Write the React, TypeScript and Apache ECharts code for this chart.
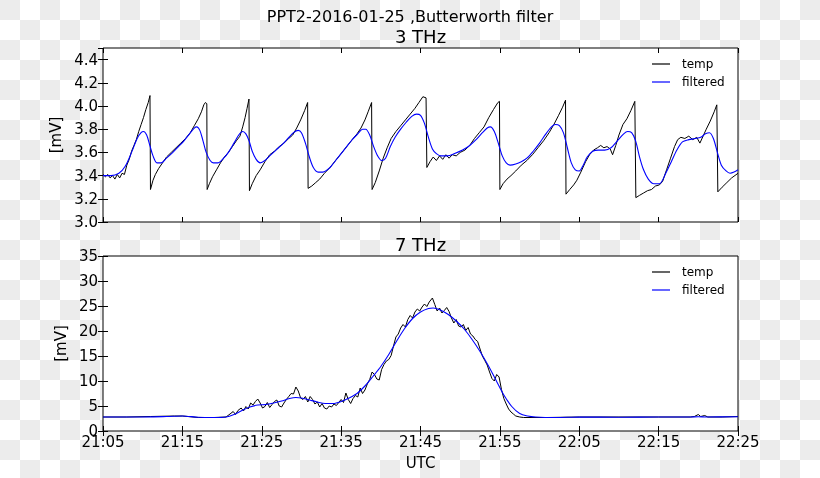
import React, { useEffect, useRef } from "react";
import * as echarts from "echarts";

// minutes after 21:05 UTC
const timeLabels = ["21:05", "21:15", "21:25", "21:35", "21:45", "21:55", "22:05", "22:15", "22:25"];
const yTicks3 = { min: 3.0, max: 4.5, step: 0.2 };
const yTicks7 = { min: 0, max: 35, step: 5 };

const temp3: [number, number][] = [
  [0, 3.41], [0.3, 3.39], [0.6, 3.41], [0.9, 3.38], [1.2, 3.4], [1.5, 3.37], [1.8, 3.41], [2.1, 3.38], [2.4, 3.42], [2.7, 3.41],
  [3.0, 3.49], [3.3, 3.54], [3.6, 3.61], [3.9, 3.66], [4.2, 3.71], [4.5, 3.78], [4.8, 3.84], [5.1, 3.9], [5.4, 3.97], [5.7, 4.03], [5.92, 4.09], [5.98, 3.28],
  [6.3, 3.36], [6.6, 3.41], [7.0, 3.46], [7.5, 3.51], [8.0, 3.56], [8.6, 3.6], [9.2, 3.64], [9.8, 3.68], [10.4, 3.72], [11.0, 3.77], [11.5, 3.83], [12.0, 3.89], [12.4, 3.95], [12.7, 4.01], [12.9, 4.03], [13.08, 4.02], [13.12, 3.28],
  [13.4, 3.33], [13.8, 3.39], [14.3, 3.45], [14.8, 3.51], [15.3, 3.56], [15.8, 3.6], [16.3, 3.65], [16.8, 3.7], [17.25, 3.74], [17.6, 3.82], [17.9, 3.9], [18.15, 3.98], [18.39, 4.06], [18.45, 3.27],
  [18.8, 3.33], [19.3, 3.4], [19.8, 3.45], [20.4, 3.52], [21.0, 3.58], [21.6, 3.61], [22.2, 3.65], [22.8, 3.68], [23.4, 3.72], [23.9, 3.75], [24.4, 3.81], [24.9, 3.88], [25.4, 3.96], [25.78, 4.03], [25.84, 3.29],
  [26.3, 3.31], [26.8, 3.34], [27.3, 3.37], [27.9, 3.42], [28.6, 3.47], [29.3, 3.53], [30.0, 3.59], [30.7, 3.65], [31.4, 3.71], [32.0, 3.76], [32.5, 3.81], [33.0, 3.88], [33.4, 3.95], [33.84, 4.03], [33.9, 3.28],
  [34.3, 3.34], [34.8, 3.44], [35.3, 3.55], [35.8, 3.64], [36.3, 3.72], [36.9, 3.78], [37.5, 3.83], [38.1, 3.88], [38.7, 3.93], [39.3, 3.98], [39.8, 4.03], [40.3, 4.08], [40.7, 4.07], [40.8, 3.47],
  [41.2, 3.52], [41.6, 3.56], [42.0, 3.53], [42.4, 3.57], [42.8, 3.54], [43.2, 3.58], [43.6, 3.55], [44.0, 3.58], [44.5, 3.57], [45.0, 3.6], [45.6, 3.62], [46.2, 3.66], [46.8, 3.72], [47.4, 3.77], [48.0, 3.82], [48.6, 3.9], [49.2, 3.97], [49.75, 4.03], [49.95, 4.04], [50.0, 3.28],
  [50.4, 3.33], [50.9, 3.37], [51.4, 3.4], [52.0, 3.44], [52.7, 3.49], [53.4, 3.53], [54.1, 3.58], [54.8, 3.64], [55.5, 3.7], [56.2, 3.77], [56.8, 3.84], [57.4, 3.92], [57.9, 3.99], [58.27, 4.05], [58.33, 3.24],
  [58.8, 3.28], [59.3, 3.32], [59.7, 3.36], [60.2, 3.43], [60.8, 3.52], [61.3, 3.58], [61.8, 3.62], [62.3, 3.64], [62.7, 3.66], [63.1, 3.64], [63.5, 3.65], [63.9, 3.63], [64.2, 3.58], [64.6, 3.66], [65.0, 3.75], [65.5, 3.84], [66.0, 3.89], [66.5, 3.96], [67.0, 4.04], [67.13, 3.21],
  [67.6, 3.23], [68.1, 3.25], [68.6, 3.27], [69.1, 3.28], [69.6, 3.31], [70.1, 3.32], [70.5, 3.35], [71.0, 3.45], [71.5, 3.55], [72.0, 3.65], [72.4, 3.71], [72.8, 3.73], [73.3, 3.72], [73.8, 3.74], [74.3, 3.71], [74.8, 3.73], [75.2, 3.68], [75.6, 3.74], [76.0, 3.8], [76.5, 3.87], [77.0, 3.95], [77.33, 4.01], [77.46, 3.26],
  [78.0, 3.3], [78.6, 3.34], [79.2, 3.38], [80.0, 3.42],
];

const filt3: [number, number][] = [
  [0, 3.4], [1, 3.4], [2, 3.42], [2.8, 3.48], [3.6, 3.6], [4.3, 3.72], [4.8, 3.77], [5.1, 3.78], [5.5, 3.75], [5.9, 3.66], [6.3, 3.57], [6.8, 3.51], [7.3, 3.51],
  [8.0, 3.55], [8.8, 3.6], [9.5, 3.65], [10.2, 3.7], [10.9, 3.76], [11.5, 3.81], [11.8, 3.82], [12.2, 3.79], [12.6, 3.7], [13.0, 3.6], [13.5, 3.53], [13.9, 3.51], [14.5, 3.51],
  [15.2, 3.55], [15.8, 3.6], [16.5, 3.68], [17.1, 3.75], [17.6, 3.78], [18.0, 3.76], [18.4, 3.7], [18.8, 3.61], [19.3, 3.54], [19.8, 3.51], [20.4, 3.53],
  [21.0, 3.57], [21.8, 3.62], [22.6, 3.67], [23.3, 3.72], [24.0, 3.77], [24.6, 3.79], [25.0, 3.77], [25.5, 3.68], [26.0, 3.56], [26.5, 3.47], [27.1, 3.43], [27.7, 3.43],
  [28.6, 3.47], [29.3, 3.53], [30.0, 3.59], [30.7, 3.65], [31.4, 3.71], [32.1, 3.76], [32.7, 3.8], [33.1, 3.8], [33.6, 3.75], [34.1, 3.65], [34.6, 3.57], [35.1, 3.53], [35.6, 3.55],
  [36.2, 3.65], [36.8, 3.73], [37.5, 3.8], [38.2, 3.86], [38.9, 3.91], [39.5, 3.93], [40.0, 3.92], [40.5, 3.85], [41.0, 3.73], [41.5, 3.63], [42.0, 3.59], [42.6, 3.57],
  [43.4, 3.57], [44.3, 3.59], [45.3, 3.62], [46.2, 3.66], [47.0, 3.71], [47.8, 3.77], [48.4, 3.81], [48.8, 3.82], [49.3, 3.78], [49.8, 3.68], [50.3, 3.57], [50.8, 3.51], [51.3, 3.49],
  [52.0, 3.5], [52.7, 3.52], [53.4, 3.55], [54.2, 3.61], [55.0, 3.68], [55.8, 3.76], [56.5, 3.82], [57.0, 3.84], [57.5, 3.83], [58.0, 3.77], [58.5, 3.64], [59.0, 3.51], [59.5, 3.45], [60.0, 3.44],
  [60.5, 3.49], [61.0, 3.56], [61.7, 3.61], [62.4, 3.62], [63.2, 3.62], [64.0, 3.64], [64.8, 3.7], [65.6, 3.76], [66.1, 3.78], [66.6, 3.77], [67.1, 3.7], [67.6, 3.56], [68.1, 3.45], [68.7, 3.37], [69.4, 3.33], [70.1, 3.33],
  [70.9, 3.42], [71.6, 3.52], [72.3, 3.62], [73.0, 3.69], [73.8, 3.71], [74.6, 3.72], [75.3, 3.73], [75.9, 3.76], [76.4, 3.77], [76.9, 3.72], [77.4, 3.6], [77.9, 3.49], [78.5, 3.44], [79.0, 3.42], [79.5, 3.43], [80.0, 3.45],
];

const temp7: [number, number][] = [
  [0, 2.8], [3, 2.8], [6, 2.9], [9, 3.0], [10, 3.0], [12, 2.7], [14, 2.7], [15.5, 2.8],
  [16.0, 3.4], [16.4, 3.9], [16.7, 3.3], [17.0, 4.1], [17.4, 4.6], [17.7, 4.0], [18.0, 4.9], [18.3, 4.4], [18.6, 5.6], [18.9, 5.2], [19.2, 5.9], [19.5, 6.4], [19.8, 5.6],
  [20.1, 4.6], [20.4, 4.9], [20.7, 5.7], [21.0, 4.7], [21.3, 5.3], [21.6, 5.9], [21.9, 6.2], [22.2, 5.0], [22.5, 4.8], [22.8, 5.6], [23.1, 6.3], [23.4, 6.9], [23.7, 7.5],
  [24.0, 7.4], [24.3, 8.8], [24.6, 8.0], [24.9, 6.6], [25.2, 6.3], [25.5, 6.9], [25.8, 5.8], [26.1, 6.9], [26.4, 6.3], [26.7, 5.4], [27.0, 5.8], [27.3, 4.8], [27.6, 5.5],
  [27.9, 4.6], [28.2, 4.4], [28.5, 5.0], [28.8, 4.8], [29.1, 5.4], [29.4, 5.1], [29.7, 5.7], [30.0, 6.3], [30.3, 5.7], [30.6, 7.6], [30.9, 6.3], [31.2, 5.5], [31.5, 6.5],
  [31.8, 7.1], [32.1, 6.8], [32.4, 8.6], [32.7, 7.5], [33.0, 8.2], [33.3, 9.4], [33.6, 10.3], [33.9, 11.8], [34.2, 11.3], [34.5, 10.4], [34.8, 10.2], [35.1, 12.3],
  [35.4, 13.3], [35.7, 14.0], [36.0, 14.3], [36.3, 15.1], [36.6, 17.0], [36.9, 18.8], [37.2, 19.4], [37.5, 20.6], [37.8, 21.3], [38.1, 20.8], [38.4, 22.3], [38.7, 23.1],
  [39.0, 22.6], [39.3, 23.8], [39.6, 24.4], [39.9, 24.0], [40.2, 24.8], [40.5, 25.4], [40.8, 24.9], [41.1, 25.8], [41.5, 26.6], [41.8, 25.3], [42.1, 24.0], [42.4, 24.6],
  [42.7, 23.6], [43.0, 24.1], [43.3, 24.7], [43.6, 23.9], [43.9, 22.6], [44.2, 21.6], [44.5, 22.3], [44.8, 21.0], [45.1, 20.8], [45.4, 21.3], [45.7, 20.1], [46.0, 20.7],
  [46.3, 19.4], [46.6, 19.0], [46.9, 18.3], [47.2, 17.9], [47.5, 16.4], [47.8, 15.0], [48.1, 14.1], [48.4, 13.2], [48.7, 11.8], [49.0, 10.5], [49.3, 10.0], [49.6, 11.3],
  [49.9, 10.8], [50.2, 8.3], [50.5, 6.5], [50.8, 5.4], [51.1, 4.4], [51.4, 3.8], [51.7, 3.4], [52.0, 3.0], [52.5, 2.8], [53, 2.7], [56, 2.7], [60, 2.8], [65, 2.8],
  [70, 2.8], [74, 2.8], [74.5, 2.9], [75.0, 3.3], [75.3, 2.9], [75.8, 3.1], [76.2, 2.8], [78, 2.8], [80, 2.9],
];

const filt7: [number, number][] = [
  [0, 2.8], [4, 2.8], [8, 2.9], [10, 3.0], [12, 2.75], [14, 2.7], [15.5, 2.8], [16.5, 3.3], [17.5, 4.1], [18.5, 4.8], [19.5, 5.2], [20.5, 5.3], [21.5, 5.6],
  [22.5, 6.0], [23.5, 6.5], [24.3, 6.7], [25.0, 6.6], [26.0, 6.2], [27.0, 5.8], [28.0, 5.5], [29.0, 5.5], [30.0, 5.9], [31.0, 6.6], [32.0, 7.5], [33.0, 9.0],
  [34.0, 10.9], [35.0, 12.9], [36.0, 15.3], [37.0, 18.0], [38.0, 20.5], [39.0, 22.5], [40.0, 23.8], [41.0, 24.5], [41.6, 24.6], [42.5, 24.2], [43.5, 23.3],
  [44.5, 22.0], [45.5, 20.4], [46.5, 18.3], [47.5, 15.9], [48.5, 13.2], [49.5, 10.2], [50.5, 7.2], [51.5, 4.9], [52.5, 3.5], [53.5, 3.0], [54.5, 2.8], [57, 2.7],
  [60, 2.8], [65, 2.75], [70, 2.8], [74, 2.8], [75, 2.85], [76, 2.8], [80, 2.85],
];

const FONT = "DejaVu Sans";

export default function App() {
  const ref = useRef<HTMLDivElement>(null);
  useEffect(() => {
    if (!ref.current) return;
    const chart = echarts.init(ref.current, undefined, { renderer: "svg" });
    const tick = { show: true, inside: true, length: 5, lineStyle: { color: "#000", width: 1 } };
    const label = { color: "#000", fontSize: 15, fontFamily: FONT };
    const xBase = { type: "value", min: 0, max: 80, interval: 10, splitLine: { show: false }, axisLine: { show: false }, axisTick: tick };
    const xFmt = (v: number) => timeLabels[Math.round(v / 10)] ?? "";
    const legendBase = {
      orient: "vertical", left: 652, padding: 0, itemWidth: 18, itemHeight: 1.2, itemGap: 6, icon: "rect",
      textStyle: { color: "#000", fontSize: 12, fontFamily: FONT, padding: [0, 0, 0, 7] },
      data: ["temp", "filtered"], selectedMode: false,
    };
    chart.setOption({
      animation: false,
      backgroundColor: "transparent",
      graphic: [
        { type: "text", x: 410, y: 16, style: { text: "PPT2-2016-01-25 ,Butterworth filter", fontSize: 16, fontFamily: FONT, fill: "#000", align: "center", verticalAlign: "middle" } },
        { type: "text", x: 420.5, y: 36, style: { text: "3 THz", fontSize: 18, fontFamily: FONT, fill: "#000", align: "center", verticalAlign: "middle" } },
        { type: "text", x: 420.5, y: 244, style: { text: "7 THz", fontSize: 18, fontFamily: FONT, fill: "#000", align: "center", verticalAlign: "middle" } },
      ],
      grid: [
        { left: 103, top: 48, width: 635, height: 174, show: true, backgroundColor: "#fff", borderColor: "#000", borderWidth: 1 },
        { left: 103, top: 256, width: 635, height: 175, show: true, backgroundColor: "#fff", borderColor: "#000", borderWidth: 1 },
      ],
      legend: [
        { ...legendBase, top: 58 },
        { ...legendBase, top: 266 },
      ],
      xAxis: [
        { ...xBase, gridIndex: 0, position: "bottom", axisLabel: { show: false } },
        { ...xBase, gridIndex: 0, position: "top", axisLabel: { show: false } },
        { ...xBase, gridIndex: 1, position: "bottom", axisLabel: { ...label, margin: 3, formatter: xFmt },
          name: "UTC", nameLocation: "middle", nameGap: 24, nameTextStyle: { ...label } },
        { ...xBase, gridIndex: 1, position: "top", axisLabel: { show: false } },
      ],
      yAxis: [
        { type: "value", gridIndex: 0, position: "left", min: yTicks3.min, max: yTicks3.max, interval: yTicks3.step,
          splitLine: { show: false }, axisLine: { show: false }, axisTick: tick,
          axisLabel: { ...label, margin: 5, showMaxLabel: false, formatter: (v: number) => v.toFixed(1) },
          name: "[mV]", nameLocation: "middle", nameRotate: 90, nameGap: 34, nameTextStyle: { ...label } },
        { type: "value", gridIndex: 0, position: "right", min: yTicks3.min, max: yTicks3.max, interval: yTicks3.step,
          splitLine: { show: false }, axisLine: { show: false }, axisTick: tick, axisLabel: { show: false } },
        { type: "value", gridIndex: 1, position: "left", min: yTicks7.min, max: yTicks7.max, interval: yTicks7.step,
          splitLine: { show: false }, axisLine: { show: false }, axisTick: tick,
          axisLabel: { ...label, margin: 5 },
          name: "[mV]", nameLocation: "middle", nameRotate: 90, nameGap: 34, nameTextStyle: { ...label } },
        { type: "value", gridIndex: 1, position: "right", min: yTicks7.min, max: yTicks7.max, interval: yTicks7.step,
          splitLine: { show: false }, axisLine: { show: false }, axisTick: tick, axisLabel: { show: false } },
      ],
      series: [
        { name: "temp", type: "line", xAxisIndex: 0, yAxisIndex: 0, data: temp3, symbol: "none", color: "#000", lineStyle: { color: "#000", width: 1 } },
        { name: "filtered", type: "line", xAxisIndex: 0, yAxisIndex: 0, data: filt3, symbol: "none", smooth: 0.3, color: "#0000ff", lineStyle: { color: "#0000ff", width: 1.1 } },
        { name: "temp", type: "line", xAxisIndex: 2, yAxisIndex: 2, data: temp7, symbol: "none", color: "#000", lineStyle: { color: "#000", width: 1 } },
        { name: "filtered", type: "line", xAxisIndex: 2, yAxisIndex: 2, data: filt7, symbol: "none", smooth: 0.3, color: "#0000ff", lineStyle: { color: "#0000ff", width: 1.1 } },
      ],
    });
    return () => chart.dispose();
  }, []);
  return (
    <div
      style={{
        position: "fixed", left: 0, top: 0, width: 820, height: 478,
        background: "repeating-conic-gradient(#fff 0% 25%, #ececec 0% 50%) 0 0 / 40px 40px",
      }}
    >
      <div ref={ref} style={{ width: 820, height: 478 }} />
    </div>
  );
}
